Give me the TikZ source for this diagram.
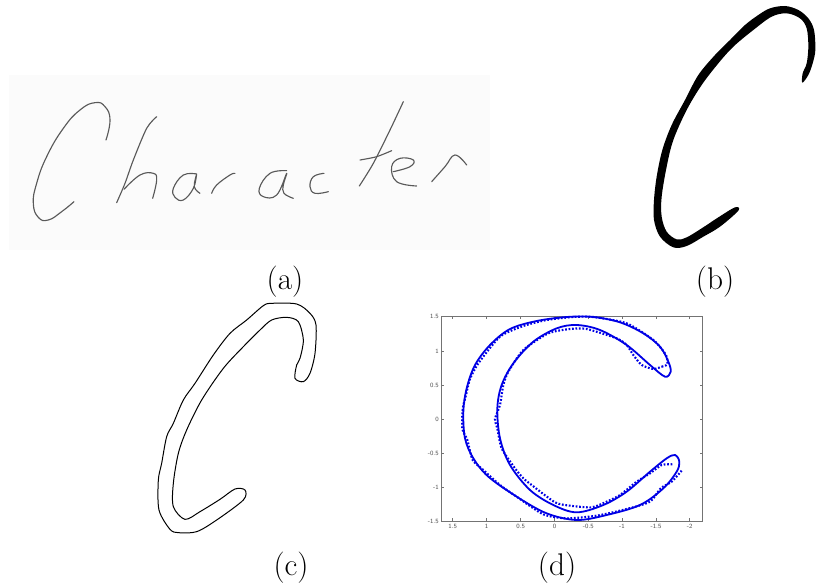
\documentclass[tikz,border=0pt]{standalone}
\usepackage{tikz}

\begin{document}
\begin{tikzpicture}[
  x=0.75pt, y=-0.75pt,
  lab/.style={font=\fontsize{23.5}{28}\selectfont, inner sep=0pt},
  ink/.style={draw=black!65, line width=0.85pt, line cap=round, line join=round},
  ticklab/.style={font=\sffamily\fontsize{4.8}{6}\selectfont, text=black!70, inner sep=0pt},
  axs/.style={draw=black!55, line width=0.5pt},
  fit1/.style={draw=blue!90!black, line width=1.35pt, line join=round},
  pts/.style={draw=blue!90!black, line width=1.6pt, dash pattern=on 1.3pt off 1.3pt}
]
\useasboundingbox (0,0) rectangle (827,588);

% (a) scanned word
\fill[black!1.5] (9,75) rectangle (490,250);
\begin{scope}[shift={(0,60)}, x=0.25pt, y=-0.25pt]
 \draw[ink] plot[smooth, tension=0.8] coordinates {(318,240) (330,180) (315,140) (285,128) (240,150) (190,205) (140,290) (110,370) (100,430) (115,472) (145,480) (185,455) (222,425)};
 \draw[ink] plot[smooth, tension=0.5] coordinates {(470,170) (440,205) (400,300) (375,370) (350,428)};
 \draw[ink] plot[smooth, tension=0.7] coordinates {(372,388) (420,345) (460,340) (470,360) (458,415)};
 \draw[ink] plot[smooth, tension=0.7] coordinates {(590,342) (550,345) (520,385) (525,412) (550,420) (580,385) (590,342) (583,380) (600,400)};
 \draw[ink] plot[smooth, tension=0.7] coordinates {(635,400) (650,375) (690,345) (705,340)};
 \draw[ink] plot[smooth, tension=0.7] coordinates {(860,332) (810,340) (778,385) (790,410) (830,405) (860,340) (850,375) (852,400) (880,415)};
 \draw[ink] plot[smooth, tension=0.7] coordinates {(972,340) (940,350) (930,380) (945,400) (985,395)};
 \draw[ink] plot[smooth, tension=0.5] coordinates {(1210,125) (1170,210) (1120,310) (1078,378)};
 \draw[ink] plot[smooth, tension=0.5] coordinates {(1080,300) (1130,290) (1175,272)};
 \draw[ink] plot[smooth, tension=0.7] coordinates {(1180,335) (1230,320) (1240,300) (1200,295) (1175,320) (1190,365) (1250,378)};
 \draw[ink] plot[smooth, tension=0.7] coordinates {(1295,365) (1335,320) (1365,285) (1400,315)};
\end{scope}

% (b) binary stroke
\begin{scope}[shift={(630,0)}, x=0.25pt, y=-0.25pt]
 \fill[black] plot[smooth cycle, tension=0.55] coordinates {(517,248) (535,225) (548,190) (556,150) (552,90) (535,55) (505,30) (465,18) (420,25) (385,45) (345,75) (300,120) (255,165) (205,225) (165,300) (125,375) (97,450) (80,530) (72,600) (72,660) (90,710) (130,742) (170,738) (220,710) (270,680) (325,632) (315,622) (265,652) (215,685) (170,712) (140,718) (110,695) (95,650) (95,590) (110,500) (130,420) (170,330) (215,255) (265,190) (310,140) (370,90) (425,50) (470,40) (510,55) (530,85) (535,140) (530,190) (518,220)};
\end{scope}

% (c) contour of the stroke
\begin{scope}[shift={(140,290)}, x=0.25pt, y=-0.25pt]
 \draw[black, line width=0.75pt] plot[smooth cycle, tension=0.5] coordinates {(465,265) (490,275) (510,250) (525,190) (528,105) (510,70) (470,42) (395,40) (370,47) (320,90) (270,130) (220,195) (165,280) (130,330) (100,400) (80,440) (65,520) (55,570) (57,660) (90,718) (115,728) (170,725) (230,690) (310,630) (315,600) (285,597) (240,628) (180,665) (135,688) (100,650) (100,580) (115,490) (140,420) (185,330) (250,235) (310,170) (360,120) (395,90) (440,82) (475,95) (490,150) (480,205) (470,225)};
\end{scope}

% (d) fitted outline
\begin{scope}[shift={(420,305)}, x=0.25pt, y=-0.25pt]
 \draw[axs] (65,33) rectangle (848,648);
 \foreach \i/\x/\t in {1/98/1.5,2/200/1,3/302/0.5,4/404/0,5/505/-0.5,6/606/-1,7/708/-1.5,8/809/-2}
 {
  \draw[axs] (\x,648) -- (\x,640);
  \draw[axs] (\x,33) -- (\x,41);
  \node[ticklab] (xt\i) at (\x,664) {\t};
 }
 \foreach \i/\y/\t in {1/35/1.5,2/138/1,3/240/0.5,4/342/0,5/444/-0.5,6/546/-1,7/648/-1.5}
 {
  \draw[axs] (65,\y) -- (73,\y);
  \draw[axs] (848,\y) -- (840,\y);
  \node[ticklab, anchor=east] (yt\i) at (57,\y) {\t};
 }
 \draw[pts] plot[smooth, tension=0.4] coordinates {(725,185) (742,178) (738,150) (700,105) (620,55) (520,36) (460,36) (380,45) (310,63) (240,95) (175,175) (150,222) (138,270) (128,312) (127,372) (142,405) (158,465) (190,495) (240,540) (290,575) (370,628) (440,640) (530,632) (620,612) (690,590) (722,550) (755,530) (785,497)};
 \draw[pts] plot[smooth, tension=0.4] coordinates {(757,478) (725,480) (690,505) (650,530) (600,570) (560,590) (515,607) (450,602) (405,592) (335,540) (310,520) (285,490) (245,430) (232,370) (225,342) (240,300) (250,240) (265,200) (310,135) (385,85) (450,72) (500,72) (590,100) (620,120) (640,150) (665,180) (700,192) (725,185)};
 \draw[fit1] plot[smooth cycle, tension=0.55] coordinates {(752,200) (745,170) (720,125) (670,85) (600,52) (520,36) (440,36) (350,48) (270,72) (210,120) (165,180) (140,250) (130,320) (135,400) (160,460) (205,515) (290,575) (380,625) (470,645) (560,630) (660,600) (730,550) (770,500) (778,470) (765,450) (740,460) (690,500) (620,560) (550,600) (470,622) (400,600) (330,555) (270,480) (240,400) (232,310) (245,240) (280,175) (340,110) (410,70) (470,60) (540,75) (620,120) (690,180) (735,215)};
\end{scope}

\node[lab] (capa) at (285,282) {(a)};
\node[lab] (capb) at (715,282) {(b)};
\node[lab] (capc) at (291,568) {(c)};
\node[lab] (capd) at (557,568) {(d)};
\end{tikzpicture}
\end{document}
